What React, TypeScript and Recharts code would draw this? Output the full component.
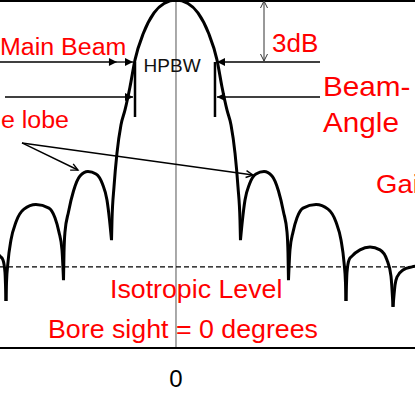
import React from "react";
import {
  ComposedChart,
  Line,
  XAxis,
  YAxis,
  ReferenceLine,
  ReferenceDot,
} from "recharts";

type Pt = [number, number];

// angle off bore sight (deg) vs relative gain (0..100)
const mainLobe: Pt[] = [
  [-11.94, 31.0], [-11.85, 36.8], [-11.48, 46.3], [-10.93, 56.0],
  [-10.19, 64.1], [-9.44, 68.4], [-8.52, 75.0], [-7.59, 82.8],
  [-6.02, 90.5], [-4.07, 96.3], [-2.22, 99.0], [0, 100],
  [2.22, 99.0], [4.07, 96.3], [6.02, 90.5], [7.59, 82.8],
  [8.52, 75.0], [9.44, 68.4], [10.19, 64.1], [10.93, 56.0],
  [11.48, 46.3], [11.85, 36.8], [11.94, 31.0],
];

const sideLobe1Left: Pt[] = [
  [-20.83, 19.5], [-20.74, 27.3], [-20.56, 33.3], [-19.91, 39.1],
  [-18.98, 45.1], [-17.78, 49.4], [-16.3, 50.7], [-14.81, 50.0],
  [-13.61, 47.1], [-12.78, 42.5], [-12.31, 36.8], [-11.94, 31.0],
];
const sideLobe1Right: Pt[] = [
  [11.94, 31.0], [12.31, 36.8], [12.78, 42.5], [13.61, 47.1],
  [14.81, 50.0], [16.3, 50.7], [17.78, 49.4], [18.98, 45.1],
  [19.91, 39.1], [20.56, 33.3], [20.74, 27.3], [20.83, 19.5],
];

const sideLobe2Left: Pt[] = [
  [-31.48, 13.5], [-31.39, 18.7], [-31.11, 24.7], [-30.56, 31.0],
  [-29.63, 36.2], [-28.15, 39.9], [-25.93, 41.2], [-23.52, 40.2],
  [-22.41, 37.4], [-21.67, 33.3], [-21.11, 28.2], [-20.83, 19.5],
];
const sideLobe2Right: Pt[] = [
  [20.83, 19.5], [21.11, 28.2], [21.67, 33.3], [22.41, 37.4],
  [23.52, 40.2], [25.93, 41.2], [28.15, 39.9], [29.63, 36.2],
  [30.56, 31.0], [31.11, 24.7], [31.39, 18.7], [31.48, 13.5],
];

const sideLobe3Left: Pt[] = [
  [-34.07, 28.2], [-32.59, 26.4], [-32.04, 25.3], [-31.67, 21.8],
  [-31.48, 13.5],
];
const sideLobe3Right: Pt[] = [
  [31.48, 13.5], [31.67, 21.8], [32.04, 25.3], [32.59, 26.4],
  [34.07, 28.2], [35.93, 29.0], [37.78, 28.2], [39.07, 25.3],
  [39.81, 20.7], [40.19, 11.8],
];

const sideLobe4Right: Pt[] = [
  [40.19, 11.8], [40.56, 18.1], [40.93, 20.4], [42.04, 22.4],
  [43.7, 23.3], [44.81, 23.6],
];

const lobes = [
  sideLobe3Left, sideLobe2Left, sideLobe1Left, mainLobe,
  sideLobe1Right, sideLobe2Right, sideLobe3Right, sideLobe4Right,
];

const xTicks = [0];
const isotropicLevel = 23.3;
const halfPowerLevel = 82.18;
const beamLowLevel = 72.13;

// annotation arrows, in chart units
type Arrow = { from: Pt; to: Pt; head: "fill" | "open" | "none"; both?: boolean; width: number; color?: string };
const arrows: Arrow[] = [
  { from: [-32.59, halfPowerLevel], to: [-10.93, halfPowerLevel], head: "fill", width: 1.3 },
  { from: [-10.93, halfPowerLevel], to: [-7.96, halfPowerLevel], head: "fill", width: 1.3 },
  { from: [-31.67, beamLowLevel], to: [-7.96, beamLowLevel], head: "fill", width: 1.3 },
  { from: [26.67, halfPowerLevel], to: [7.59, halfPowerLevel], head: "fill", width: 1.3 },
  { from: [26.67, beamLowLevel], to: [7.59, beamLowLevel], head: "fill", width: 1.3 },
  { from: [-7.59, halfPowerLevel], to: [-7.59, 66.38], head: "none", width: 2.5 },
  { from: [7.22, halfPowerLevel], to: [7.22, 66.38], head: "none", width: 2.5 },
  { from: [16.3, 82.47], to: [16.3, 99.71], head: "open", both: true, width: 1, color: "#333" },
  { from: [-28.52, 58.91], to: [-18.15, 51.15], head: "open", width: 1.4 },
  { from: [-28.52, 58.91], to: [14.26, 49.71], head: "open", width: 1.4 },
];

// labels; the source text is a little stretched sideways (sx)
type Note = { text: string; x: number; y: number; size: number; sx: number; color: string; anchor: "start" | "end" };
const notes: Note[] = [
  { text: "Main Beam", x: -32.59, y: 84.2, size: 24.5, sx: 1.02, color: "#ff0000", anchor: "start" },
  { text: "Side lobe", x: -19.81, y: 63.22, size: 24.5, sx: 1.02, color: "#ff0000", anchor: "end" },
  { text: "HPBW", x: -6.0, y: 79.31, size: 19, sx: 1, color: "#111", anchor: "start" },
  { text: "3dB", x: 17.78, y: 85.06, size: 26, sx: 1, color: "#ff0000", anchor: "start" },
  { text: "Beam-", x: 27.22, y: 72.41, size: 27, sx: 1.1, color: "#ff0000", anchor: "start" },
  { text: "Angle", x: 27.22, y: 62.07, size: 27, sx: 1.1, color: "#ff0000", anchor: "start" },
  { text: "Gain", x: 37.04, y: 44.54, size: 25, sx: 1.1, color: "#ff0000", anchor: "start" },
  { text: "Isotropic Level", x: -12.22, y: 14.37, size: 25, sx: 1.07, color: "#ff0000", anchor: "start" },
  { text: "Bore sight = 0 degrees", x: -23.7, y: 2.87, size: 25.5, sx: 1.05, color: "#ff0000", anchor: "start" },
];

const head = (tx: number, ty: number, ux: number, uy: number, kind: string, color: string, w: number, key: string) => {
  const L = kind === "fill" ? 8 : 7;
  const W = kind === "fill" ? 4 : 3.5;
  const bx = tx - ux * L;
  const by = ty - uy * L;
  const nx = -uy;
  const ny = ux;
  const p1 = `${bx + nx * W},${by + ny * W}`;
  const p2 = `${bx - nx * W},${by - ny * W}`;
  if (kind === "fill") {
    return <polygon key={key} points={`${tx},${ty} ${p1} ${p2}`} fill={color} />;
  }
  return <polyline key={key} points={`${p1} ${tx},${ty} ${p2}`} fill="none" stroke={color} strokeWidth={w} />;
};

const arrowShape = (a: Arrow) => (p: any) => {
  const { x1, y1, x2, y2 } = p;
  const color = a.color || "#000";
  const len = Math.hypot(x2 - x1, y2 - y1) || 1;
  const ux = (x2 - x1) / len;
  const uy = (y2 - y1) / len;
  return (
    <g>
      <line x1={x1} y1={y1} x2={x2} y2={y2} stroke={color} strokeWidth={a.width} />
      {a.head !== "none" && head(x2, y2, ux, uy, a.head, color, a.width, "e")}
      {a.head !== "none" && a.both && head(x1, y1, -ux, -uy, a.head, color, a.width, "s")}
    </g>
  );
};

export default function App() {
  return (
    <div
      style={{
        position: "absolute",
        left: 0,
        top: 0,
        fontFamily: "'Liberation Sans', Arial, sans-serif",
        background: "#fff",
      }}
    >
      <ComposedChart
        width={415}
        height={398}
        margin={{ top: 0, right: 0, bottom: 0, left: 0 }}
      >
        <XAxis
          type="number"
          dataKey="a"
          domain={[-32.59, 44.26]}
          allowDataOverflow
          ticks={xTicks}
          tickLine={false}
          tickMargin={16}
          axisLine={{ stroke: "#000", strokeWidth: 2 }}
          tick={{ fill: "#000", fontSize: 24 }}
          height={50}
        />
        <YAxis type="number" domain={[0, 100]} allowDataOverflow hide />
        <ReferenceLine x={0} stroke="#555" strokeWidth={1} />
        <ReferenceLine
          y={isotropicLevel}
          stroke="#000"
          strokeWidth={1.2}
          strokeDasharray="5 3"
        />
        <ReferenceLine y={100} stroke="#000" strokeWidth={4} />
        {lobes.map((lobe, i) => (
          <Line
            key={`lobe-${i}`}
            data={lobe.map(([a, g]) => ({ a, g }))}
            dataKey="g"
            type="monotone"
            stroke="#000"
            strokeWidth={3}
            dot={false}
            activeDot={false}
            isAnimationActive={false}
          />
        ))}
        {arrows.map((a, i) => (
          <ReferenceLine
            key={`arrow-${i}`}
            segment={[
              { x: a.from[0], y: a.from[1] },
              { x: a.to[0], y: a.to[1] },
            ]}
            ifOverflow="visible"
            shape={arrowShape(a)}
          />
        ))}
        {notes.map((n, i) => (
          <ReferenceDot
            key={`note-${i}`}
            x={n.x}
            y={n.y}
            r={0}
            ifOverflow="visible"
            shape={(p: any) => (
              <text
                transform={`translate(${p.cx},${p.cy}) scale(${n.sx},1)`}
                fill={n.color}
                fontSize={n.size}
                textAnchor={n.anchor}
              >
                {n.text}
              </text>
            )}
          />
        ))}
      </ComposedChart>
    </div>
  );
}
